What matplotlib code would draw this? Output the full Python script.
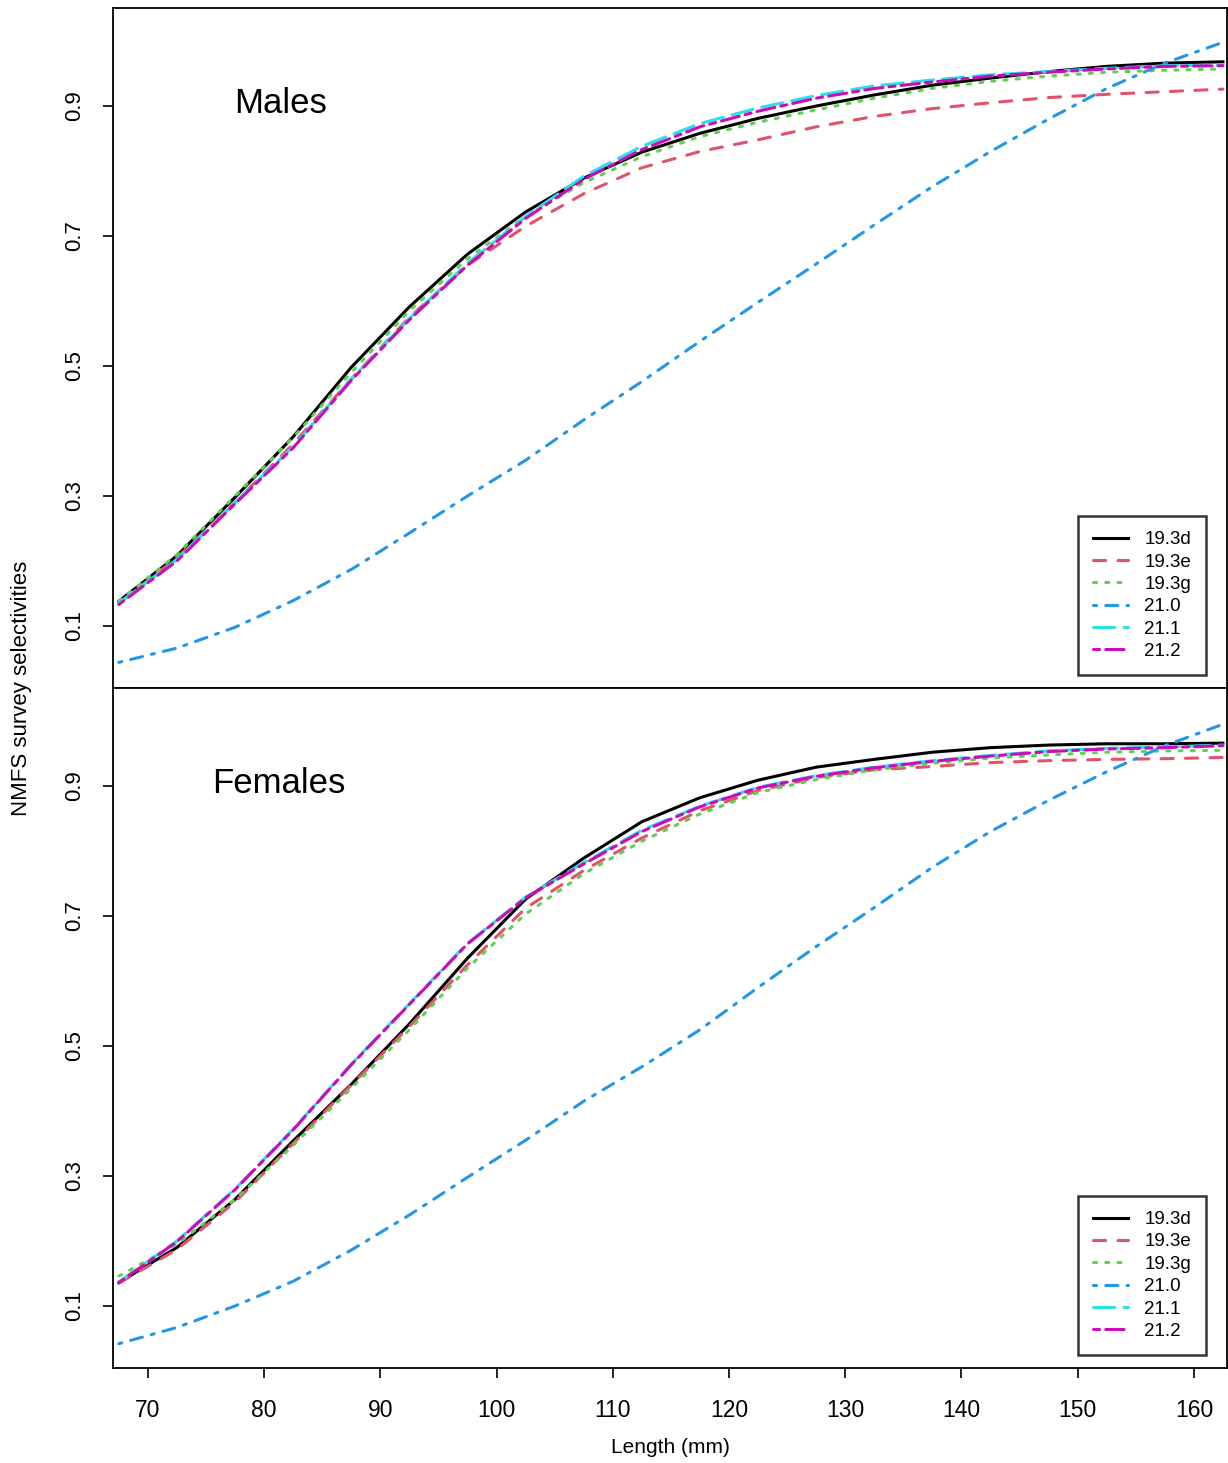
import matplotlib
matplotlib.use("Agg")
import matplotlib.pyplot as plt
import numpy as np

plt.rcParams['font.family'] = ['Liberation Sans', 'DejaVu Sans']

# Length bins (mm)
lengths = [67.5, 72.5, 77.5, 82.5, 87.5, 92.5, 97.5, 102.5, 107.5, 112.5,
           117.5, 122.5, 127.5, 132.5, 137.5, 142.5, 147.5, 152.5, 157.5, 162.5]

models = ["19.3d", "19.3e", "19.3g", "21.0", "21.1", "21.2"]

# Male survey selectivity by model
males_193d = [0.138, 0.208, 0.298, 0.391, 0.498, 0.591, 0.672, 0.737, 0.789, 0.829,
              0.858, 0.881, 0.900, 0.917, 0.932, 0.943, 0.953, 0.961, 0.966, 0.968]
males_193e = [0.135, 0.205, 0.290, 0.380, 0.480, 0.575, 0.655, 0.715, 0.765, 0.805,
              0.830, 0.848, 0.868, 0.884, 0.896, 0.905, 0.913, 0.918, 0.922, 0.926]
males_193g = [0.138, 0.210, 0.300, 0.390, 0.490, 0.585, 0.665, 0.730, 0.782, 0.822,
              0.853, 0.875, 0.894, 0.912, 0.927, 0.938, 0.946, 0.952, 0.955, 0.957]
males_210 = [0.044, 0.066, 0.098, 0.139, 0.187, 0.243, 0.300, 0.355, 0.417, 0.476,
             0.538, 0.598, 0.657, 0.717, 0.776, 0.830, 0.880, 0.927, 0.966, 0.998]
males_211 = [0.135, 0.202, 0.290, 0.376, 0.480, 0.573, 0.658, 0.730, 0.792, 0.838,
             0.873, 0.897, 0.916, 0.931, 0.940, 0.948, 0.953, 0.958, 0.962, 0.963]
males_212 = [0.133, 0.200, 0.288, 0.374, 0.478, 0.571, 0.655, 0.727, 0.787, 0.833,
             0.868, 0.892, 0.912, 0.927, 0.937, 0.946, 0.952, 0.957, 0.961, 0.962]

# Female survey selectivity by model
females_193d = [0.136, 0.190, 0.264, 0.354, 0.441, 0.534, 0.635, 0.726, 0.789, 0.845,
                0.882, 0.909, 0.929, 0.941, 0.952, 0.959, 0.963, 0.965, 0.965, 0.966]
females_193e = [0.135, 0.187, 0.260, 0.350, 0.440, 0.530, 0.625, 0.712, 0.770, 0.820,
                0.862, 0.893, 0.913, 0.925, 0.930, 0.936, 0.939, 0.941, 0.942, 0.944]
females_193g = [0.146, 0.195, 0.264, 0.347, 0.435, 0.525, 0.620, 0.703, 0.765, 0.815,
                0.857, 0.890, 0.910, 0.925, 0.935, 0.943, 0.948, 0.952, 0.954, 0.955]
females_210 = [0.042, 0.067, 0.100, 0.138, 0.186, 0.240, 0.298, 0.355, 0.415, 0.468,
               0.525, 0.590, 0.653, 0.713, 0.775, 0.830, 0.878, 0.922, 0.962, 0.995]
females_211 = [0.137, 0.200, 0.280, 0.372, 0.472, 0.565, 0.658, 0.729, 0.782, 0.832,
               0.869, 0.898, 0.916, 0.929, 0.939, 0.947, 0.954, 0.958, 0.960, 0.963]
females_212 = [0.136, 0.199, 0.279, 0.371, 0.471, 0.564, 0.657, 0.728, 0.780, 0.830,
               0.868, 0.897, 0.915, 0.928, 0.938, 0.946, 0.953, 0.957, 0.959, 0.962]

male_series = [males_193d, males_193e, males_193g, males_210, males_211, males_212]
female_series = [females_193d, females_193e, females_193g, females_210, females_211, females_212]

# R-style palette and line types
colors = ["#000000", "#DF536B", "#61D04F", "#2297E6", "#28E2E5", "#CD0BBC"]
styles = ["-", (0, (4, 4)), (0, (1, 3)), (0, (1, 3, 4, 3)), (0, (7, 3)), (0, (2, 2, 6, 2))]

W, H = 1228, 1463
fig = plt.figure(figsize=(W / 100, H / 100), dpi=100)
left, right = 113 / W, 1227 / W
ax_top = fig.add_axes([left, 1 - 688 / H, right - left, 680 / H])
ax_bot = fig.add_axes([left, 1 - 1368 / H, right - left, 680 / H], sharex=ax_top)

lw = 2.2
for ax, series, title, tx in [(ax_top, male_series, "Males", 0.109),
                              (ax_bot, female_series, "Females", 0.089)]:
    for vals, c, ls, name in zip(series, colors, styles, models):
        ax.plot(lengths, vals, color=c, linestyle=ls, linewidth=lw,
                dash_capstyle='round', label=name)
    ax.set_ylim(0.0046, 1.0508)
    ax.set_yticks([0.1, 0.3, 0.5, 0.7, 0.9])
    ax.set_yticklabels(["0.1", "0.3", "0.5", "0.7", "0.9"], rotation=90, va='center')
    ax.tick_params(axis='y', length=7, width=1.2, labelsize=16, pad=13)
    for s in ax.spines.values():
        s.set_linewidth(1.3)
    ax.text(tx, 0.859, title, transform=ax.transAxes, fontsize=25, ha='left', va='center')
    leg = ax.legend(loc='lower right', bbox_to_anchor=((1206 - 113) / 1114, 13 / 680),
                    borderaxespad=0, fontsize=13.5, frameon=True, fancybox=False,
                    handlelength=1.9, handletextpad=0.85, labelspacing=0.28,
                    borderpad=0.8)
    leg.get_frame().set_edgecolor("black")
    leg.get_frame().set_linewidth(1.8)

ax_top.set_xlim(67.0, 162.85)
ax_top.tick_params(axis='x', bottom=False, labelbottom=False)
ax_bot.set_xticks([70, 80, 90, 100, 110, 120, 130, 140, 150, 160])
ax_bot.tick_params(axis='x', length=7, width=1.2, labelsize=16.5, pad=15)
ax_bot.set_xlabel("Length (mm)", fontsize=15, labelpad=12)

fig.text(22 / W, 1 - 688 / H, "NMFS survey selectivities", rotation=90,
         ha='center', va='center', fontsize=16)

fig.savefig("out.png", dpi=100)
